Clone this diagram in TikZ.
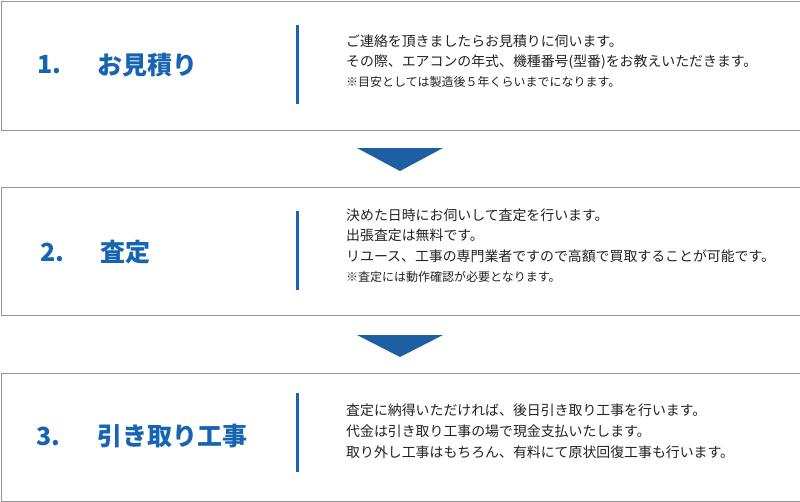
\documentclass[tikz,border=0pt]{standalone}
\usepackage{fontspec}
\setmainfont{Noto Sans CJK JP}
\definecolor{stepblue}{RGB}{22,100,178}
\definecolor{arrowblue}{RGB}{28,96,163}
\definecolor{framegray}{RGB}{150,150,150}
\definecolor{bodytext}{RGB}{34,34,34}
\begin{document}
\begin{tikzpicture}[x=1pt,y=-1pt,
  stepbox/.style={draw=framegray, line width=1pt, minimum width=799pt, inner sep=0pt, anchor=north west},
  numtext/.style={font=\bfseries\fontsize{25}{25}\selectfont, text=stepblue, anchor=west, inner sep=0pt},
  bartick/.style={fill=stepblue, draw=none, minimum width=3.5pt, inner sep=0pt, anchor=north west},
  bodyline/.style={font=\fontsize{13.9}{13.9}\selectfont, text=bodytext, anchor=west, inner sep=0pt},
  noteline/.style={font=\fontsize{12}{12}\selectfont, text=bodytext, anchor=west, inner sep=0pt},
  downtri/.style={fill=arrowblue, draw=none}
]
\useasboundingbox (0,0) rectangle (800,501);

% boxes
\node[stepbox, minimum height=129pt] (b1) at (0.5,0.5) {};
\node[stepbox, minimum height=128.5pt] (b2) at (0.5,186.5) {};
\node[stepbox, minimum height=128pt] (b3) at (0.5,372.5) {};

% bars
\node[bartick, minimum height=79pt] (bar1) at (295.5,25) {};
\node[bartick, minimum height=79pt] (bar2) at (295.5,211) {};
\node[bartick, minimum height=79pt] (bar3) at (295.5,393) {};

% titles
\node[numtext] (n1) at (37,65) {1.};
\node[numtext] (t1) at (97,65) {お見積り};
\node[numtext] (n2) at (40,252) {2.};
\node[numtext] (t2) at (100,252) {査定};
\node[numtext] (n3) at (36,436) {3.};
\node[numtext] (t3) at (97,436) {引き取り工事};

% body text box 1
\node[bodyline] (l11) at (346,41) {ご連絡を頂きましたらお見積りに伺います。};
\node[bodyline] (l12) at (346,62) {その際、エアコンの年式、機種番号(型番)をお教えいただきます。};
\node[noteline] (l13) at (346,82) {※目安としては製造後５年くらいまでになります。};

% body text box 2
\node[bodyline] (l21) at (346,215) {決めた日時にお伺いして査定を行います。};
\node[bodyline] (l22) at (346,235.5) {出張査定は無料です。};
\node[bodyline] (l23) at (346,256.5) {リユース、工事の専門業者ですので高額で買取することが可能です。};
\node[noteline] (l24) at (346,277) {※査定には動作確認が必要となります。};

% body text box 3
\node[bodyline] (l31) at (346,410) {査定に納得いただければ、後日引き取り工事を行います。};
\node[bodyline] (l32) at (346,431) {代金は引き取り工事の場で現金支払いたします。};
\node[bodyline] (l33) at (346,452) {取り外し工事はもちろん、有料にて原状回復工事も行います。};

% arrows between steps
\coordinate (a1l) at (357,148);
\coordinate (a1r) at (443,148);
\coordinate (a1t) at (400,171);
\fill[downtri] (a1l) -- (a1r) -- (a1t) -- cycle;
\coordinate (a2l) at (357,335);
\coordinate (a2r) at (443,335);
\coordinate (a2t) at (400,357);
\fill[downtri] (a2l) -- (a2r) -- (a2t) -- cycle;
\end{tikzpicture}
\end{document}
